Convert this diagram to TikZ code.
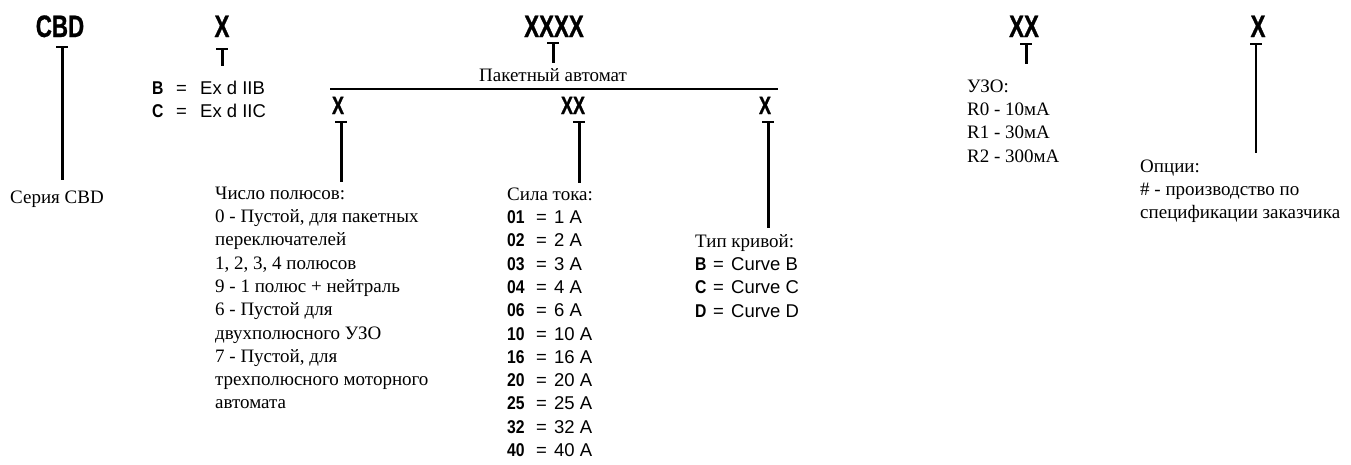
\documentclass[tikz,border=0pt]{standalone}
\usepackage{fontspec}
\setmainfont{Liberation Serif}
\newfontfamily\hsans{Liberation Sans}
\newfontfamily\csans[FakeStretch=0.72,FakeBold=0.8]{Liberation Sans}
\newfontfamily\ksans[FakeStretch=0.85]{Liberation Sans}
\begin{document}
\begin{tikzpicture}[x=1pt,y=-1pt,
  code/.style={font=\csans\bfseries\fontsize{31}{31}\selectfont, inner sep=0, anchor=base},
  subcode/.style={font=\csans\bfseries\fontsize{25}{25}\selectfont, inner sep=0, anchor=base},
  desc/.style={font=\fontsize{19}{23.3}\selectfont, align=left, inner sep=0, anchor=north west},
  slist/.style={font=\hsans\fontsize{18.5}{23.3}\selectfont, align=left, inner sep=0, anchor=north west},
  tbar/.style={line width=2.5pt},
  stem/.style={line width=3pt},
  thinstem/.style={line width=2pt},
  hline/.style={line width=2.5pt}]
\newcommand{\kc}[1]{{\ksans\bfseries\fontsize{18.5}{18.5}\selectfont #1}}
\newcommand{\sr}[3]{\makebox[#1pt][l]{\kc{#3}}\makebox[#2pt][l]{=}}
\useasboundingbox (0,0) rectangle (1351,464);
% code letters
\node[code] (cbd) at (60,37) {CBD};
\node[code] (gas) at (222,37) {X};
\node[code] (pak) at (554,37) {XXXX};
\node[code] (uzo) at (1024,37) {XX};
\node[code] (opt) at (1258,37) {X};
\node[subcode] (pol) at (338,114) {X};
\node[subcode] (cur) at (573,114) {XX};
\node[subcode] (crv) at (765,114) {X};
% T bars
\coordinate (tcbd) at (62,47);
\coordinate (tgas) at (222,49);
\coordinate (tpak) at (553,43);
\coordinate (tuzo) at (1026,44);
\coordinate (topt) at (1256,44);
\coordinate (tpol) at (341,122);
\coordinate (tcur) at (579,122);
\coordinate (tcrv) at (768,122);
% descriptions
\node[desc] (ser) at (10,203-16.31) {\strut Серия CBD};
\node[slist] (gasl) at (152,94-16.31) {\strut\sr{24}{24}{B}Ex d IIB\\
\sr{24}{24}{C}Ex d IIC};
\node[font=\fontsize{19}{19}\selectfont, inner sep=0, anchor=base] (pakl) at (553,81) {Пакетный автомат};
\coordinate (lineL) at (330,89);
\coordinate (lineR) at (778,89);
\node[desc] (poll) at (215,199-16.31) {\strut Число полюсов:\\
0 - Пустой, для пакетных\\
переключателей\\
1, 2, 3, 4 полюсов\\
9 - 1 полюс + нейтраль\\
6 - Пустой для\\
двухполюсного УЗО\\
7 - Пустой, для\\
трехполюсного моторного\\
автомата};
\node[desc] (curh) at (507,200-16.31) {\strut Сила тока:};
\node[slist] (curl) at (507,223.3-16.31) {\strut\sr{29}{18}{01}1 A\\
\sr{29}{18}{02}2 A\\
\sr{29}{18}{03}3 A\\
\sr{29}{18}{04}4 A\\
\sr{29}{18}{06}6 A\\
\sr{29}{18}{10}10 A\\
\sr{29}{18}{16}16 A\\
\sr{29}{18}{20}20 A\\
\sr{29}{18}{25}25 A\\
\sr{29}{18}{32}32 A\\
\sr{29}{18}{40}40 A};
\node[desc] (crvh) at (695,247-16.31) {\strut Тип кривой:};
\node[slist] (crvl) at (695,270.3-16.31) {\strut\sr{18}{18}{B}Curve B\\
\sr{18}{18}{C}Curve C\\
\sr{18}{18}{D}Curve D};
\node[desc] (uzol) at (967,92-16.31) {\strut УЗО:\\
R0 - 10мА\\
R1 - 30мА\\
R2 - 300мА};
\node[desc] (optl) at (1140,172-16.31) {\strut Опции:\\
\# - производство по\\
спецификации заказчика};
% connectors
\foreach \t in {tcbd,tgas,tpak,tuzo,topt,tpol,tcur,tcrv}
  \draw[tbar] (\t) ++(-6,0) -- ++(12,0);
\draw[stem] (tcbd) -- ([yshift=6.7pt]tcbd |- ser.north);
\draw[stem] (tgas) -- ([yshift=11.7pt]tgas |- gasl.north);
\draw[stem] (tpak) -- ([yshift=5pt]tpak |- pakl.north);
\draw[stem] (tuzo) -- ([yshift=11.7pt]tuzo |- uzol.north);
\draw[thinstem] (topt) -- ([yshift=2.7pt]topt |- optl.north);
\draw[stem] (tpol) -- ([yshift=1pt]tpol |- poll.north);
\draw[stem] (tcur) -- ([yshift=1pt]tcur |- curh.north);
\draw[stem] (tcrv) -- ([yshift=2.7pt]tcrv |- crvh.north);
\draw[hline] (lineL) -- (lineR);
\end{tikzpicture}
\end{document}
